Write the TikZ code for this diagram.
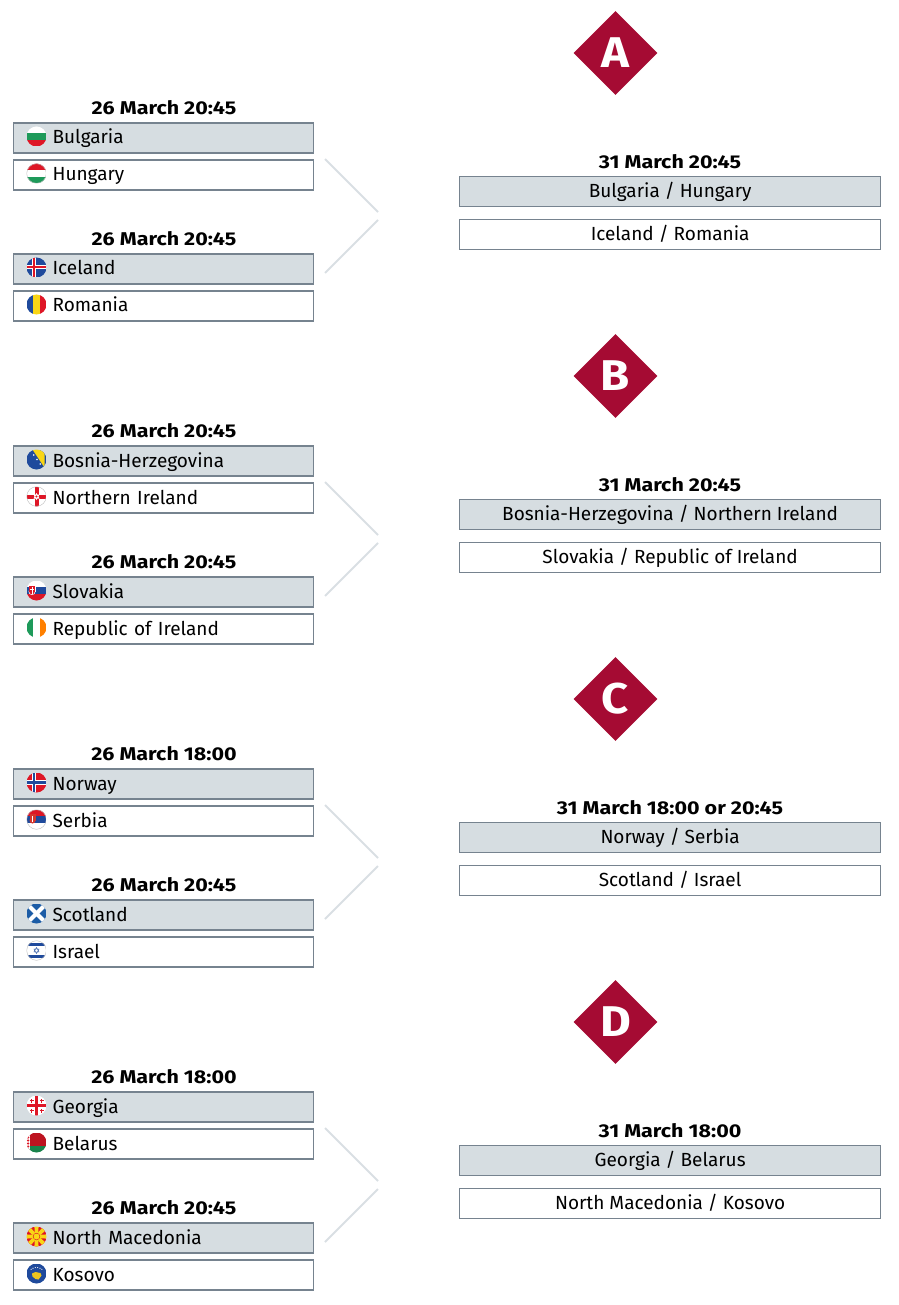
\documentclass[tikz,border=0pt]{standalone}
\usepackage{fontspec}
\setmainfont{Fira Sans}
\newfontfamily\widebold[FakeStretch=1.16]{Fira Sans Bold}
\newfontfamily\badgebold[FakeStretch=1.1]{Fira Sans Bold}
\usetikzlibrary{shapes.geometric}
\definecolor{uefared}{HTML}{A50B33}
\definecolor{boxgrey}{HTML}{D6DDE1}
\definecolor{boxline}{HTML}{76838F}
\definecolor{joingrey}{HTML}{D9DFE3}
\definecolor{flagblue}{HTML}{1F4A9C}
\definecolor{flagred}{HTML}{DE1626}
\definecolor{flaggreen}{HTML}{1E9A5A}
\definecolor{flaggold}{HTML}{F9D616}
\tikzset{
	teambox/.style={draw=boxline, line width=1.2pt, anchor=west, inner sep=0pt, inner xsep=39pt, text width=222pt, align=left, minimum height=30pt, text height=14.5pt, text depth=2.5pt, font=\fontsize{19}{22}\selectfont},
	seeded/.style={teambox, fill=boxgrey},
	unseeded/.style={teambox, fill=white},
	tiebox/.style={draw=boxline, line width=1.2pt, anchor=west, inner sep=0pt, minimum width=421pt, minimum height=30pt, text height=14.5pt, text depth=2.5pt, font=\fontsize{19}{22}\selectfont},
	tieseeded/.style={tiebox, fill=boxgrey},
	tieother/.style={tiebox, fill=white},
	datelabel/.style={inner sep=0pt, font=\fontsize{18.5}{22}\widebold},
	pathbadge/.style={diamond, aspect=1, fill=uefared, text=white, inner sep=0pt, minimum size=84pt, font=\fontsize{43}{43}\badgebold},
	joinline/.style={draw=joingrey, line width=2pt},
	flagrim/.style={draw=black!25, line width=0.8pt},
}
\newcommand{\flagon}[2]{%
	\begin{scope}[shift={(#1.west)}, xshift=23.5pt, yshift=1.5pt]
		\clip (0, 0) circle (10);
		#2
	\end{scope}}
\begin{document}
\begin{tikzpicture}[x=1pt, y=-1pt]
	\useasboundingbox (0, 0) rectangle (898, 1305);
	% path A
	\node (badgeA) at (615.5, 53) [pathbadge] {A};
	\node (dateAa) at (164, 108) [datelabel] {26 March 20:45};
	\node (bul) at (13, 138) [seeded] {Bulgaria};
	\node (hun) at (13, 175) [unseeded] {Hungary};
	\node (dateAb) at (164, 239) [datelabel] {26 March 20:45};
	\node (isl) at (13, 269) [seeded] {Iceland};
	\node (rou) at (13, 306) [unseeded] {Romania};
	\node (dateAf) at (670, 162) [datelabel] {31 March 20:45};
	\node (tieAa) at (459, 191.3) [tieseeded] {Bulgaria / Hungary};
	\node (tieAb) at (459, 234.3) [tieother] {Iceland / Romania};
	% path B
	\node (badgeB) at (615.5, 376) [pathbadge] {B};
	\node (dateBa) at (164, 431) [datelabel] {26 March 20:45};
	\node (bih) at (13, 461) [seeded] {Bosnia-Herzegovina};
	\node (nir) at (13, 498) [unseeded] {Northern Ireland};
	\node (dateBb) at (164, 562) [datelabel] {26 March 20:45};
	\node (svk) at (13, 592) [seeded] {Slovakia};
	\node (irl) at (13, 629) [unseeded] {Republic of Ireland};
	\node (dateBf) at (670, 485) [datelabel] {31 March 20:45};
	\node (tieBa) at (459, 514.3) [tieseeded] {Bosnia-Herzegovina / Northern Ireland};
	\node (tieBb) at (459, 557.3) [tieother] {Slovakia / Republic of Ireland};
	% path C
	\node (badgeC) at (615.5, 699) [pathbadge] {C};
	\node (dateCa) at (164, 754) [datelabel] {26 March 18:00};
	\node (nor) at (13, 784) [seeded] {Norway};
	\node (srb) at (13, 821) [unseeded] {Serbia};
	\node (dateCb) at (164, 885) [datelabel] {26 March 20:45};
	\node (sco) at (13, 915) [seeded] {Scotland};
	\node (isr) at (13, 952) [unseeded] {Israel};
	\node (dateCf) at (670, 808) [datelabel] {31 March 18:00 or 20:45};
	\node (tieCa) at (459, 837.3) [tieseeded] {Norway / Serbia};
	\node (tieCb) at (459, 880.3) [tieother] {Scotland / Israel};
	% path D
	\node (badgeD) at (615.5, 1022) [pathbadge] {D};
	\node (dateDa) at (164, 1077) [datelabel] {26 March 18:00};
	\node (geo) at (13, 1107) [seeded] {Georgia};
	\node (blr) at (13, 1144) [unseeded] {Belarus};
	\node (dateDb) at (164, 1208) [datelabel] {26 March 20:45};
	\node (mkd) at (13, 1238) [seeded] {North Macedonia};
	\node (kos) at (13, 1275) [unseeded] {Kosovo};
	\node (dateDf) at (670, 1131) [datelabel] {31 March 18:00};
	\node (tieDa) at (459, 1160.3) [tieseeded] {Georgia / Belarus};
	\node (tieDb) at (459, 1203.3) [tieother] {North Macedonia / Kosovo};
	% connectors
	\foreach \p/\dy in {A/0, B/323, C/646, D/969} {
		\coordinate (fromtop\p) at (325, 159 + \dy);
		\coordinate (endtop\p) at (378, 212 + \dy);
		\coordinate (frombot\p) at (325, 273 + \dy);
		\coordinate (endbot\p) at (378, 220 + \dy);
		\draw[joinline] (fromtop\p) -- (endtop\p);
		\draw[joinline] (frombot\p) -- (endbot\p);
	}
	% flags
	\flagon{bul}{
		\fill[white] (-10, -10) rectangle (10, -3.3);
		\fill[flaggreen] (-10, -3.3) rectangle (10, 3.3);
		\fill[flagred] (-10, 3.3) rectangle (10, 10);
	}
	\flagon{hun}{
		\fill[flagred] (-10, -10) rectangle (10, -3.3);
		\fill[white] (-10, -3.3) rectangle (10, 3.3);
		\fill[flaggreen] (-10, 3.3) rectangle (10, 10);
		\draw[flagrim] (0, 0) circle (10);
	}
	\flagon{isl}{
		\fill[flagblue] (-10, -10) rectangle (10, 10);
		\fill[white] (-5, -10) rectangle (-1, 10);
		\fill[white] (-10, -2) rectangle (10, 2);
		\fill[flagred] (-4, -10) rectangle (-2, 10);
		\fill[flagred] (-10, -1) rectangle (10, 1);
	}
	\flagon{rou}{
		\fill[flagblue] (-10, -10) rectangle (-3.3, 10);
		\fill[flaggold] (-3.3, -10) rectangle (3.3, 10);
		\fill[flagred] (3.3, -10) rectangle (10, 10);
	}
	\flagon{bih}{
		\fill[flagblue] (-10, -10) rectangle (10, 10);
		\fill[flaggold] (-4, -10) -- (8, -10) -- (8, 8) -- cycle;
		\foreach \t in {0, 0.25, 0.5, 0.75, 1} {
			\fill[white] (-6 + 13 * \t, -9 + 18 * \t) circle (0.8);
		}
	}
	\flagon{nir}{
		\fill[white] (-10, -10) rectangle (10, 10);
		\fill[flagred] (-2, -10) rectangle (2, 10);
		\fill[flagred] (-10, -2) rectangle (10, 2);
		\fill[white] (0, -3.5) -- (3, 2) -- (-3, 2) -- cycle;
		\fill[white] (0, 3.5) -- (3, -2) -- (-3, -2) -- cycle;
		\fill[flagred] (0, 0) circle (1.2);
		\draw[flagrim] (0, 0) circle (10);
	}
	\flagon{svk}{
		\fill[white] (-10, -10) rectangle (10, -3.3);
		\fill[flagblue] (-10, -3.3) rectangle (10, 3.3);
		\fill[flagred] (-10, 3.3) rectangle (10, 10);
		\fill[white] (-8, -5) rectangle (-1, 1);
		\fill[white] (-4.5, 1) circle (3.5);
		\fill[flagred] (-7.3, -4.3) rectangle (-1.7, 1);
		\fill[flagred] (-4.5, 1) circle (2.8);
		\fill[white] (-5, -3.5) rectangle (-4, 3.5);
		\fill[white] (-6.5, -1.5) rectangle (-2.5, -0.6);
	}
	\flagon{irl}{
		\fill[flaggreen] (-10, -10) rectangle (-3.3, 10);
		\fill[white] (-3.3, -10) rectangle (3.3, 10);
		\fill[orange] (3.3, -10) rectangle (10, 10);
	}
	\flagon{nor}{
		\fill[flagred] (-10, -10) rectangle (10, 10);
		\fill[white] (-5, -10) rectangle (-0.5, 10);
		\fill[white] (-10, -2.3) rectangle (10, 2.3);
		\fill[flagblue] (-3.8, -10) rectangle (-1.7, 10);
		\fill[flagblue] (-10, -1.1) rectangle (10, 1.1);
	}
	\flagon{srb}{
		\fill[flagred] (-10, -10) rectangle (10, -3.3);
		\fill[flagblue] (-10, -3.3) rectangle (10, 3.3);
		\fill[white] (-10, 3.3) rectangle (10, 10);
		\fill[flagred!70!brown] (-7, -6) rectangle (-1, 1);
		\fill[flagred!70!brown] (-4, 1) circle (3);
		\fill[white] (-4.5, -4) rectangle (-3.5, 2);
		\draw[flagrim] (0, 0) circle (10);
	}
	\flagon{sco}{
		\fill[flagblue!90!cyan] (-10, -10) rectangle (10, 10);
		\draw[white, line width=4pt] (-10, -10) -- (10, 10);
		\draw[white, line width=4pt] (-10, 10) -- (10, -10);
	}
	\flagon{isr}{
		\fill[white] (-10, -10) rectangle (10, 10);
		\fill[flagblue] (-10, -7.5) rectangle (10, -4.5);
		\fill[flagblue] (-10, 4.5) rectangle (10, 7.5);
		\draw[flagblue, line width=0.4pt] (0, -3) -- (2.6, 1.5) -- (-2.6, 1.5) -- cycle;
		\draw[flagblue, line width=0.4pt] (0, 3) -- (2.6, -1.5) -- (-2.6, -1.5) -- cycle;
		\draw[flagrim] (0, 0) circle (10);
	}
	\flagon{geo}{
		\fill[white] (-10, -10) rectangle (10, 10);
		\fill[flagred] (-1.3, -10) rectangle (1.3, 10);
		\fill[flagred] (-10, -1.3) rectangle (10, 1.3);
		\foreach \sx/\sy in {-5/-5, 5/-5, -5/5, 5/5} {
			\fill[flagred] (\sx - 0.6, \sy - 2) rectangle (\sx + 0.6, \sy + 2);
			\fill[flagred] (\sx - 2, \sy - 0.6) rectangle (\sx + 2, \sy + 0.6);
		}
	}
	\flagon{blr}{
		\fill[flagred!85!black] (-10, -10) rectangle (10, 3.3);
		\fill[flaggreen!85!black] (-10, 3.3) rectangle (10, 10);
		\fill[white] (-10, -10) rectangle (-6.5, 10);
		\foreach \ty in {-8, -5, -2, 1, 4, 7} {
			\fill[flagred] (-8.3, \ty - 1.2) -- (-7, \ty) -- (-8.3, \ty + 1.2) -- (-9.6, \ty) -- cycle;
		}
	}
	\flagon{mkd}{
		\fill[flagred] (-10, -10) rectangle (10, 10);
		\foreach \a in {0, 45, ..., 315} {
			\fill[flaggold, rotate=\a] (-1.5, 0) -- (1.5, 0) -- (2.2, -12) -- (-2.2, -12) -- cycle;
		}
		\fill[flagred] (0, 0) circle (3.6);
		\fill[flaggold] (0, 0) circle (3);
	}
	\flagon{kos}{
		\fill[flagblue] (-10, -10) rectangle (10, 10);
		\fill[flaggold!80!brown] (-4.5, 0) -- (-1, -1.5) -- (4, -0.5) -- (5, 2) -- (2, 6) -- (-1, 5.5) -- (-4, 3) -- cycle;
		\foreach \a in {-50, -30, -10, 10, 30, 50} {
			\fill[white] ({7 * sin(\a)}, {-1 - 5 * cos(\a)}) circle (0.6);
		}
	}
\end{tikzpicture}
\end{document}
